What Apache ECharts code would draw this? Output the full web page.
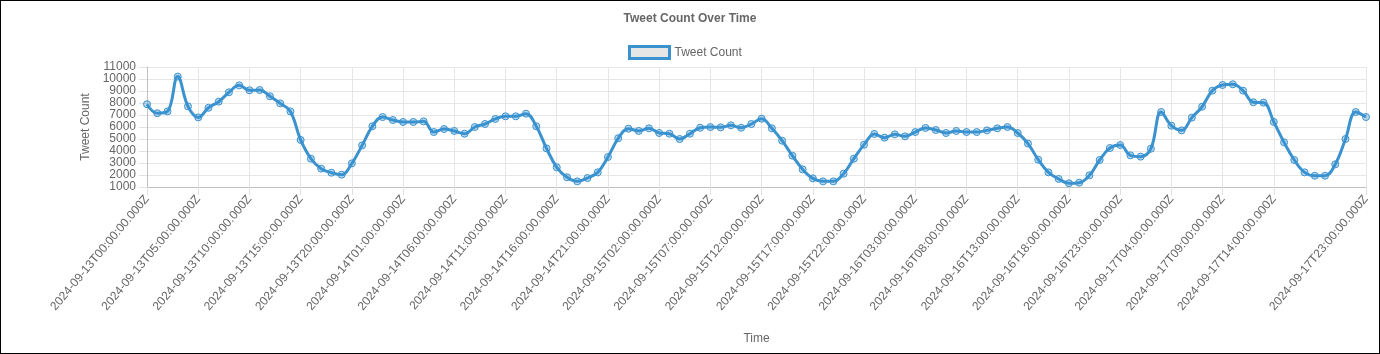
<!DOCTYPE html>
<html>
<head>
<meta charset="utf-8">
<script src="https://cdn.jsdelivr.net/npm/echarts@6/dist/echarts.min.js"></script>
<style>
html,body{margin:0;padding:0;background:#fff;}
#wrap{width:1380px;height:354px;box-sizing:border-box;border:1px solid #000;position:relative;}
#chart{position:absolute;left:-1px;top:-1px;width:1380px;height:354px;}
</style>
</head>
<body>
<div id="wrap"><div id="chart"></div></div>
<script>
const chartTitle = 'Tweet Count Over Time';
const seriesName = 'Tweet Count';
const startTime = '2024-09-13T00:00:00.000Z';
const hourCount = 120;
const tweetCounts = [
  7900, 7150, 7300, 10200, 7720, 6800, 7600, 8110, 8890, 9470,
  9060, 9080, 8560, 7970, 7300, 4920, 3360, 2530, 2190, 2030,
  2970, 4470, 6060, 6830, 6580, 6420, 6420, 6470, 5580, 5830,
  5670, 5440, 6000, 6250, 6670, 6890, 6890, 7110, 6060, 4220,
  2640, 1810, 1470, 1750, 2220, 3500, 5060, 5860, 5670, 5890,
  5500, 5440, 5000, 5440, 5940, 5990, 5970, 6140, 5940, 6250,
  6690, 5890, 4860, 3610, 2470, 1720, 1470, 1470, 2110, 3360,
  4530, 5420, 5110, 5390, 5220, 5580, 5920, 5750, 5500, 5670,
  5580, 5580, 5720, 5890, 6000, 5500, 4620, 3280, 2220, 1670,
  1310, 1360, 1970, 3250, 4250, 4500, 3640, 3530, 4190, 7250,
  6110, 5720, 6780, 7690, 9030, 9500, 9560, 9030, 8060, 8030,
  6420, 4720, 3250, 2220, 1940, 1940, 2890, 5000, 7250, 6830
];
const yTicks = [1000, 2000, 3000, 4000, 5000, 6000, 7000, 8000, 9000, 10000, 11000];

const categories = [];
const t0 = Date.parse(startTime);
for (let i = 0; i < hourCount; i++) categories.push(new Date(t0 + i * 3600000).toISOString());

const shownIdx = (i) => (i % 5 === 0 && i <= 110) || i === hourCount - 1;

const lineColor = '#3a92cf';
const txt = '#666';
const chart = echarts.init(document.getElementById('chart'), null, {renderer: 'canvas'});
chart.setOption({
  animation: false,
  textStyle: {fontFamily: '"Liberation Sans", Arial, sans-serif'},
  title: {
    text: chartTitle, left: 'center', top: 8,
    textStyle: {fontSize: 12, fontWeight: 'bold', color: txt, fontFamily: '"Liberation Sans", Arial, sans-serif'}
  },
  legend: {
    data: [seriesName], top: 40, left: 623,
    icon: 'rect', itemWidth: 40, itemHeight: 12, itemGap: 10,
    itemStyle: {color: '#e6e6e6', borderColor: lineColor, borderWidth: 3},
    textStyle: {fontSize: 12, color: txt, fontFamily: '"Liberation Sans", Arial, sans-serif'}
  },
  grid: {left: 147, right: 14, top: 67, bottom: 167, containLabel: false},
  xAxis: {
    type: 'category', data: categories, boundaryGap: false,
    name: 'Time', nameLocation: 'middle', nameGap: 146,
    nameTextStyle: {fontSize: 12, color: txt},
    axisLine: {lineStyle: {color: '#c0c0c0'}},
    axisTick: {show: true, length: 8, interval: (i) => shownIdx(i), lineStyle: {color: '#e0e0e0'}},
    axisLabel: {interval: (i) => shownIdx(i), rotate: 50, color: txt, fontSize: 12, margin: 10},
    splitLine: {show: true, interval: (i) => shownIdx(i), lineStyle: {color: '#e6e6e6'}}
  },
  yAxis: {
    type: 'value', min: yTicks[0], max: yTicks[yTicks.length - 1], interval: 1000,
    name: 'Tweet Count', nameLocation: 'middle', nameGap: 38,
    nameTextStyle: {fontSize: 12, color: txt},
    axisLine: {show: true, lineStyle: {color: '#c0c0c0'}},
    axisTick: {show: true, length: 8, lineStyle: {color: '#e0e0e0'}},
    axisLabel: {color: txt, fontSize: 12, margin: 11, formatter: (v) => String(v)},
    splitLine: {show: true, lineStyle: {color: '#e6e6e6'}}
  },
  series: [{
    name: seriesName, type: 'line', data: tweetCounts, smooth: 0.4,
    showAllSymbol: true, symbol: 'circle', symbolSize: 7,
    lineStyle: {color: lineColor, width: 3},
    itemStyle: {color: 'rgba(58,146,207,0.35)', borderColor: lineColor, borderWidth: 1}
  }]
});
</script>
</body>
</html>
